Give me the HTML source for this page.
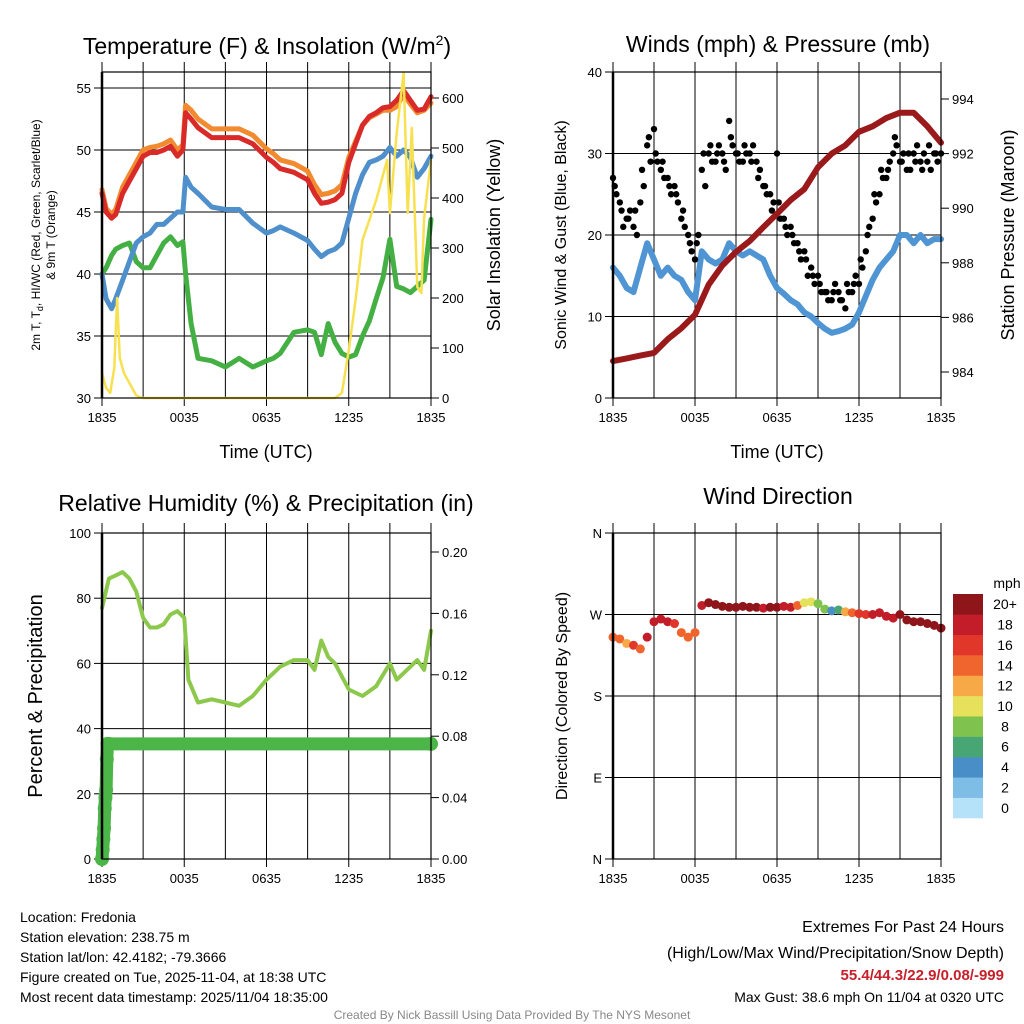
<!DOCTYPE html>
<html><head><meta charset="utf-8"><style>
html,body{margin:0;padding:0;background:#fff}
svg{display:block;font-family:"Liberation Sans",Arial,sans-serif}
</style></head><body>
<svg id="s" width="1024" height="1024" viewBox="0 0 1024 1024" xmlns="http://www.w3.org/2000/svg">
<text x="267" y="54" font-size="23" text-anchor="middle">Temperature (F) &amp; Insolation (W/m<tspan font-size="14" dy="-9">2</tspan><tspan dy="9">)</tspan></text>
<text x="778" y="52" font-size="23" text-anchor="middle">Winds (mph) &amp; Pressure (mb)</text>
<text x="266" y="511" font-size="23" text-anchor="middle">Relative Humidity (%) &amp; Precipitation (in)</text>
<text x="778" y="504" font-size="23" text-anchor="middle">Wind Direction</text>
<g font-size="14">
<text x="20" y="922">Location: Fredonia</text>
<text x="20" y="942">Station elevation: 238.75 m</text>
<text x="20" y="962">Station lat/lon: 42.4182; -79.3666</text>
<text x="20" y="982">Figure created on Tue, 2025-11-04, at 18:38 UTC</text>
<text x="20" y="1002">Most recent data timestamp: 2025/11/04 18:35:00</text>
</g>
<g text-anchor="end">
<text x="1004" y="932" font-size="16">Extremes For Past 24 Hours</text>
<text x="1004" y="958" font-size="16">(High/Low/Max Wind/Precipitation/Snow Depth)</text>
<text x="1004" y="980" font-size="15" font-weight="bold" fill="#c8202a">55.4/44.3/22.9/0.08/-999</text>
<text x="1004" y="1002" font-size="14">Max Gust: 38.6 mph On 11/04 at 0320 UTC</text>
</g>
<text x="512" y="1019" font-size="12" fill="#888" text-anchor="middle">Created By Nick Bassill Using Data Provided By The NYS Mesonet</text>
</svg>
<script>
// ---- Panel 1 data ----
const tHours=[0,0.3,0.7,1,1.5,2,2.5,3,3.5,4,4.5,5,5.5,5.9,6.1,6.5,7,8,9,10,11,12,12.5,13,14,15,15.5,16,16.5,17,17.5,18,18.5,19,19.5,20,20.5,21,21.5,22,22.5,23,23.5,24];
const tempRed=[46.5,45,44.5,44.8,46.5,47.5,48.5,49.5,49.8,49.8,50,50.3,49.5,50,53,52.5,51.8,51,51,51,50.5,49.4,49,48.5,48.2,47.6,46.5,45.7,45.8,46,46.5,49,50.5,52,52.7,53,53.4,53.5,54,54.8,54,53.2,53.3,54.3];
const temp9m=[46.8,45.3,44.8,45.2,47,48,49,50,50.2,50.3,50.5,50.8,50,50.4,53.6,53.2,52.5,51.7,51.7,51.7,51.2,50.1,49.7,49.2,48.9,48.3,47.2,46.4,46.5,46.7,47.2,49.4,50.7,52,52.6,52.9,53.2,53.2,53.5,54.5,53.7,53,53.2,53.8];
const dewBlue=[40,38,37.2,38,39.5,41,42.5,43,43.3,44,44,44.5,45,45,47.8,47,46.5,45.4,45.2,45.2,44.1,43.3,43.5,43.8,43.3,42.7,42,41.4,41.8,42,42.5,44.5,46.5,48,49,49.2,49.5,50.2,49.5,50,49.4,47.8,48.5,49.5];
const dewGreen=[40,40.5,41.5,42,42.3,42.5,41,40.5,40.5,41.5,42.5,43,42.3,42.6,40,36,33.2,33,32.5,33.2,32.5,33,33.2,33.6,35.3,35.5,35.3,33.5,36,34.5,33.6,33.3,33.5,35,36.2,38,39.7,42.8,39,38.8,38.5,39,39.5,44.4];
const solHours=[0,0.3,0.6,0.9,1.1,1.3,1.6,2,2.5,3,4,17,17.5,18,18.5,19,20,20.8,21,21.5,22,22.3,22.6,23,23.3,23.5,24];
const solVals=[50,20,10,60,200,80,50,30,5,0,0,0,10,96,196,316,396,476,370,530,650,370,540,222,210,360,476];
const tempTicks=[30,35,40,45,50,55];
const solTicks=[0,100,200,300,400,500,600];
const timeTickHours=[0,6,12,18,24];
const timeTickLabels=["1835","0035","0635","1235","1835"];
const gridHours=[0,3,6,9,12,15,18,21,24];
// ---- Panel 2 data ----
const gustA=[27,24,22,21,24,31,33,28,27,26,22,20,17,28,30,29,30,34,30,29,30,29,26,25,30,22,21,19,18,16,15,13,12,13,11,13,14,18,22,25,27,30,29,28,30,29,29,30,30];
const gustB=[25,21,23,20,26,29,29,27,25,24,21,18,20,26,29,31,28,31,29,30,31,28,25,24,22,20,19,17,15,14,13,12,14,12,13,15,16,21,24,27,29,31,30,28,31,30,28,29];
const gustC=[26,23,22,23,28,32,30,29,26,25,23,19,19,30,31,30,29,32,30,31,29,27,26,23,24,21,20,18,17,15,14,13,13,12,14,14,17,20,25,28,28,32,29,30,29,28,31,30];
const sonic=[16,15,13.5,13,16,19,17,15,16,15,14.5,13,12,18,17,16.5,17,19,18,17.5,18,17.5,17,15,13.5,12.8,12,11.5,10.5,10,9.2,8.5,8,8.2,8.5,9,10.5,12.5,14.5,16,17,18,20,20,19,20,19,19.5,19.5];
const presHours=[0,1,2,3,4,5,6,7,8,9,10,11,12,13,14,15,16,17,18,19,20,21,22,23,24];
const pres=[984.4,984.5,984.6,984.7,985.2,985.6,986.1,987.2,987.9,988.4,988.8,989.3,989.8,990.3,990.7,991.5,992,992.3,992.8,993,993.3,993.5,993.5,993,992.4];
const windTicks=[0,10,20,30,40];
const presTicks=[984,986,988,990,992,994];
// ---- Panel 3 data ----
const rhHours=[0,0.5,1,1.5,2,2.5,3,3.5,4,4.5,5,5.5,6,6.3,7,8,9,10,11,12,13,14,15,15.5,16,16.5,17,18,19,20,21,21.5,22,23,23.5,24];
const rhVals=[77,86,87,88,86,82,74,71,71,72,75,76,74,55,48,49,48,47,50,55,59,61,61,58,67,62,60,52,50,53,60,55,57,61,58,70];
const pcpHours=[0,0.05,0.1,0.15,0.2,0.25,0.3,0.35,0.4,0.5,24];
const pcpVals=[0,0.006,0.013,0.02,0.033,0.04,0.045,0.065,0.075,0.075,0.075];
const rhTicks=[0,20,40,60,80,100];
const pcpTicks=[0,0.04,0.08,0.12,0.16,0.20];
// ---- Panel 4 data ----
const dirVals=[245,243,238,236,232,245,262,265,262,260,250,245,250,280,283,281,279,278,278,279,278,278,277,278,278,279,278,280,283,284,282,276,274,275,273,272,271,270,270,272,268,266,270,264,262,262,260,258,255];
const dirSpeed=[14,15,13,16,15,18,19,19,18,17,14,15,14,19,20,20,21,20,20,21,20,20,19,20,20,19,18,14,11,10,9,8,5,7,12,14,16,17,18,18,19,19,20,21,20,20,20,21,20];
const dirTicks=[0,90,180,270,360];
const dirTickLabels=["N","E","S","W","N"];
const cbLabels=["0","2","4","6","8","10","12","14","16","18","20+"];
const cbColors=["#b5e2f8","#7ebde6","#4a8ec8","#47a673","#80c24e","#e6e05a","#f8a947","#f0652d","#e0372a","#c21d29","#8e161b"];

const S=document.getElementById('s');const NS='http://www.w3.org/2000/svg';
function mk(tag,at,parent){const e=document.createElementNS(NS,tag);for(const k in at)e.setAttribute(k,at[k]);(parent||S).appendChild(e);return e;}
function txt(x,y,s,size,anchor,parent){const e=mk('text',{x:x,y:y,'font-size':size,'text-anchor':anchor||'middle'},parent);e.textContent=s;return e;}
function scale(d0,d1,r0,r1){return v=>r0+(v-d0)/(d1-d0)*(r1-r0);}
function colorFor(v){let i=Math.floor(v/2);if(i<0)i=0;if(i>10)i=10;return cbColors[i];}

function frame(g,X0,X1,Y0,Y1,xs){
  for(const h of gridHours){const x=xs(h);
    const l=mk('line',{x1:x,x2:x,y1:Y0-10,y2:Y1+(timeTickHours.includes(h)?8:0),stroke:'#000','stroke-width':1},g);
    }
  timeTickLabels.forEach((s,i)=>{const t=txt(xs(timeTickHours[i]),Y1+24,s,13,'middle',g);
    });
}
function border(g,X0,X1,Y0,Y1){const r=mk('rect',{x:X0,y:Y0,width:X1-X0,height:Y1-Y0,fill:'none',stroke:'#000','stroke-width':1.2},g);
  
  mk('line',{x1:X0,x2:X0,y1:Y0,y2:Y1,stroke:'#000','stroke-width':2.5},g);}
function yAxis(g,ticks,ys,x,side,grid,X0,X1,fmt){
  for(const v of ticks){const y=ys(v);
    if(grid){const gl=mk('line',{x1:X0,x2:X1,y1:y,y2:y,stroke:'#000','stroke-width':1},g);
      }
    mk('line',{x1:x,x2:x+(side<0?-8:8),y1:y,y2:y,stroke:'#000','stroke-width':1},g);
    const t=txt(x+(side<0?-11:11),y+5,fmt?fmt(v):String(v),13,side<0?'end':'start',g);
    }
}
function line(g,hs,vs,xs,ys,color,w,name){const p=mk('polyline',{points:hs.map((h,i)=>xs(h).toFixed(1)+','+ys(vs[i]).toFixed(1)).join(' '),fill:'none',stroke:color,'stroke-width':w,'stroke-linejoin':'round','stroke-linecap':'round'},g);
  return p;}

// Panel 1
(function(){const X0=102,X1=431,Y0=72,Y1=398;const g=mk('g',{});

const xs=scale(0,24,X0,X1),ys=scale(30,55,398,88),ys2=scale(0,600,398,98);
frame(g,X0,X1,Y0,Y1,xs);yAxis(g,tempTicks,ys,X0,-1,true,X0,X1);yAxis(g,solTicks,ys2,X1,1,false);
line(g,tHours,dewGreen,xs,ys,'#44b043',5,'dewpoint-line');
line(g,tHours,dewBlue,xs,ys,'#4f90cc',5,'windchill-line');
line(g,tHours,temp9m,xs,ys,'#f28a30',5,'temp-9m-line');
line(g,tHours,tempRed,xs,ys,'#d92a2a',5,'temp-2m-line');
line(g,solHours,solVals,xs,ys2,'#f7e150',2.5,'insolation-line');
border(g,X0,X1,Y0,Y1);
let t=txt(266,458,'Time (UTC)',18,'middle',g);
t=mk('text',{transform:'translate(40,235) rotate(-90)','font-size':12,'text-anchor':'middle'},g);t.innerHTML='2m T, T<tspan font-size="9" dy="3">d</tspan><tspan dy="-3">, HI/WC (Red, Green, Scarlet/Blue)</tspan>';

t=txt(0,0,'& 9m T (Orange)',12,'middle',g);t.setAttribute('transform','translate(55,235) rotate(-90)');
t=txt(0,0,'Solar Insolation (Yellow)',18,'middle',g);t.setAttribute('transform','translate(500,235) rotate(-90)');
})();
// Panel 2
(function(){const X0=613,X1=941,Y0=72,Y1=398;const g=mk('g',{});

const xs=scale(0,24,X0,X1),ys=scale(0,40,398,72),ys2=scale(984,994,372,99);
frame(g,X0,X1,Y0,Y1,xs);yAxis(g,windTicks,ys,X0,-1,true,X0,X1);yAxis(g,presTicks,ys2,X1,1,false);
line(g,sonic.map((v,i)=>i*0.5),sonic,xs,ys,'#4f95d3',6,'sonic-wind-line');
gustA.forEach((v,i)=>{const c=mk('circle',{cx:xs(i*0.5),cy:ys(v),r:3.2,fill:'#000'},g);});
gustB.forEach((v,i)=>{const c=mk('circle',{cx:xs(i*0.5+0.25),cy:ys(v),r:3.2,fill:'#000'},g);});
gustC.forEach((v,i)=>{const c=mk('circle',{cx:xs(i*0.5+0.125),cy:ys(v),r:3.2,fill:'#000'},g);});
line(g,presHours,pres,xs,ys2,'#9a1a1c',6,'pressure-line');
border(g,X0,X1,Y0,Y1);
let t=txt(777,458,'Time (UTC)',18,'middle',g);
t=txt(0,0,'Sonic Wind & Gust (Blue, Black)',16,'middle',g);t.setAttribute('transform','translate(566,235) rotate(-90)');
t=txt(0,0,'Station Pressure (Maroon)',18,'middle',g);t.setAttribute('transform','translate(1014,235) rotate(-90)');
})();
// Panel 3
(function(){const X0=102,X1=431,Y0=533,Y1=859;const g=mk('g',{});

const xs=scale(0,24,X0,X1),ys=scale(0,100,859,533),ys2=scale(0,0.2,859,552);
frame(g,X0,X1,Y0,Y1,xs);yAxis(g,rhTicks,ys,X0,-1,true,X0,X1);yAxis(g,pcpTicks,ys2,X1,1,false,0,0,v=>v.toFixed(2));
line(g,rhHours,rhVals,xs,ys,'#8cc84b',4,'humidity-line');
line(g,pcpHours,pcpVals,xs,ys2,'#4bb548',13,'precip-line');
pcpHours.forEach((h,i)=>{const c=mk('circle',{cx:xs(h),cy:ys2(pcpVals[i]),r:7,fill:'#4bb548'},g);});
border(g,X0,X1,Y0,Y1);
let t=txt(0,0,'Percent & Precipitation',20,'middle',g);t.setAttribute('transform','translate(42,696) rotate(-90)');
})();
// Panel 4
(function(){const X0=613,X1=941,Y0=533,Y1=859;const g=mk('g',{});

const xs=scale(0,24,X0,X1),ys=scale(0,360,859,533);
frame(g,X0,X1,Y0,Y1,xs);yAxis(g,dirTicks,ys,X0,-1,true,X0,X1,v=>dirTickLabels[dirTicks.indexOf(v)]);
dirVals.forEach((v,i)=>{const c=mk('circle',{cx:xs(i*0.5),cy:ys(v),r:4.5,fill:colorFor(dirSpeed[i])},g);});
border(g,X0,X1,Y0,Y1);
let t=txt(0,0,'Direction (Colored By Speed)',16,'middle',g);t.setAttribute('transform','translate(567,696) rotate(-90)');
const cb=mk('g',{},g);
const bh=(818-594)/cbColors.length;
cbColors.forEach((c,i)=>{const y=818-(i+1)*bh;mk('rect',{x:953,y:y,width:30,height:bh+0.3,fill:c},cb);
  const l=txt(1005,y+bh/2+5,cbLabels[i],14,'middle',cb);});
t=txt(1007,588,'mph',14,'middle',cb);
})();
</script>
</body></html>
